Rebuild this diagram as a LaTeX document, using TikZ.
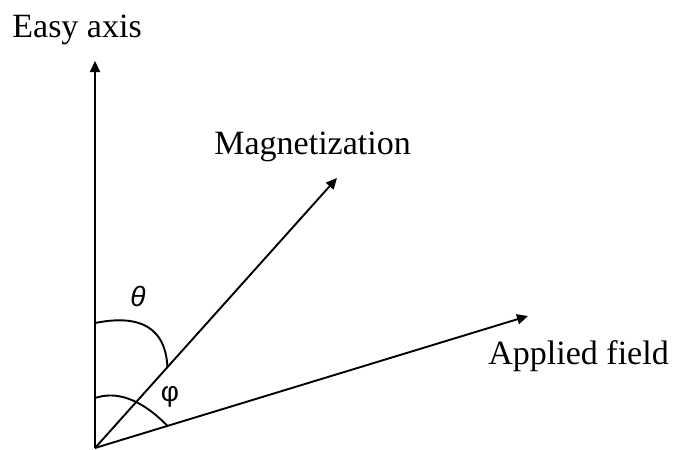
\documentclass[tikz,border=0pt]{standalone}
\usepackage{fontspec}
\setmainfont{Liberation Serif}
\newfontfamily\anglefont{Liberation Sans}
\usetikzlibrary{arrows.meta,calc}

\newlength{\du}
\setlength{\du}{0.5pt}

\begin{document}
\begin{tikzpicture}[
  axisline/.style={line width=0.95pt,-{Triangle[length=5.5pt,width=5pt]}},
  anglearc/.style={line width=0.95pt},
  axislabel/.style={anchor=base west,inner sep=0pt,font=\fontsize{17}{20}\selectfont},
  anglelabel/.style={inner sep=0pt,font=\anglefont\fontsize{14}{16}\selectfont}]
\pgftransformxscale{1.000000}
\pgftransformyscale{-1.000000}
\useasboundingbox (0\du,0\du) rectangle (677\du,450\du);
% vertex and arrow tips
\coordinate (origin) at (95\du,448\du);
\coordinate (easytip) at (95\du,61\du);
\coordinate (magtip) at (337\du,178\du);
\coordinate (fieldtip) at (528\du,316\du);
% ends of the angle marks
\coordinate (thetastart) at (95\du,323\du);
\coordinate (thetaend) at ($(origin)!0.2995!(magtip)$);
\coordinate (phistart) at (95\du,398\du);
\coordinate (phiend) at ($(origin)!0.1675!(fieldtip)$);
% axes
\draw[axisline] (origin) -- (easytip);
\draw[axisline] (origin) -- (magtip);
\draw[axisline] (origin) -- (fieldtip);
% angle marks
\draw[anglearc] (thetastart) .. controls (130\du,316\du) and (165\du,320\du) .. (thetaend);
\draw[anglearc] (phistart) .. controls (116\du,391\du) and (140\du,398\du) .. (phiend);
% labels
\node[axislabel] (easylabel) at (12\du,37\du) {Easy axis};
\node[axislabel] (maglabel) at (214\du,154\du) {Magnetization};
\node[axislabel] (fieldlabel) at (488\du,364\du) {Applied field};
\node[anglelabel] (thetalabel) at (138\du,296\du) {\itshape θ};
\node[anglelabel] (philabel) at (170\du,397\du) {φ};
\end{tikzpicture}
\end{document}
